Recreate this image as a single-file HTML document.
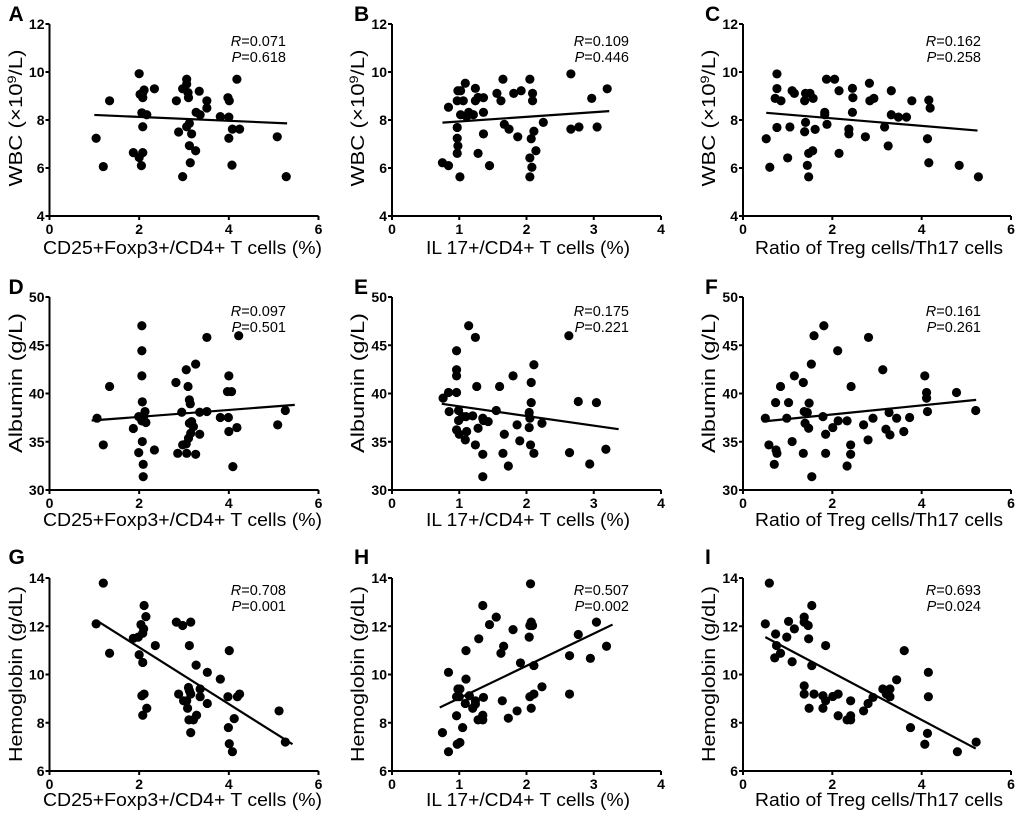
<!DOCTYPE html>
<html><head><meta charset="utf-8"><style>
html,body{margin:0;padding:0;background:#fff;}
svg{display:block;font-family:"Liberation Sans",Arial,sans-serif;}
</style></head><body>
<svg id="fig" width="1020" height="824" viewBox="0 0 1020 824"></svg>
<script>
// ---- data ----
const aX=[1.04,1.2,1.34,2.0,1.87,2.0,2.08,2.05,2.08,2.06,2.17,2.08,2.08,2.02,2.11,2.34,2.83,2.88,2.97,2.97,3.06,3.06,3.09,3.1,3.06,3.12,3.17,3.12,3.14,3.26,3.27,3.36,3.34,3.51,3.51,3.81,3.98,4.01,4.0,4.0,4.18,4.08,4.24,4.07,5.08,5.28];
const aY=[7.24,6.06,8.8,9.93,6.64,6.44,6.64,6.1,7.72,8.3,8.22,8.93,9.14,9.07,9.25,9.3,8.8,7.5,5.64,9.3,9.5,9.7,9.14,8.93,7.72,7.86,7.42,6.93,6.22,6.72,8.32,8.22,9.2,8.8,8.5,8.14,8.93,8.8,8.12,7.24,9.7,7.62,7.62,6.12,7.3,5.64];
const aFitX=[1.0,5.3], aFitY=[8.21,7.86];
const bX=[0.75,0.84,0.84,0.98,1.02,0.97,0.97,0.97,0.98,0.97,1.01,1.02,1.06,1.09,1.11,1.14,1.21,1.24,1.24,1.28,1.36,1.36,1.36,1.28,1.45,1.56,1.62,1.65,1.67,1.74,1.81,1.92,1.87,2.05,2.09,2.09,2.07,2.11,2.14,2.05,2.08,2.05,2.25,2.66,2.66,2.78,2.97,3.05,3.2];
const bY=[6.22,6.1,8.53,9.22,9.22,8.8,7.69,7.24,6.92,6.61,5.63,8.22,8.8,9.53,8.14,8.32,8.22,9.32,8.8,8.94,8.93,8.32,7.42,6.61,6.1,9.11,8.8,9.7,7.82,7.62,9.11,9.22,7.3,9.7,9.11,8.8,7.22,7.53,6.72,6.42,6.03,5.63,7.9,9.92,7.62,7.71,8.9,7.71,9.3];
const bFitX=[0.75,3.23], bFitY=[7.89,8.37];
const cX=[0.52,0.6,0.76,0.76,0.72,0.85,0.76,1.0,1.05,1.1,1.15,1.38,1.4,1.5,1.57,1.4,1.38,1.615,1.44,1.47,1.47,1.56,1.83,1.83,1.88,1.87,2.05,2.15,2.15,2.37,2.37,2.45,2.46,2.45,2.74,2.83,2.84,2.93,3.17,3.25,3.32,3.32,3.48,3.66,3.78,4.13,4.16,4.19,4.16,4.84,5.27];
const cY=[7.22,6.03,9.92,9.31,8.9,8.8,7.69,6.42,7.71,9.22,9.11,8.8,9.11,9.11,8.9,7.9,7.51,7.61,6.11,5.63,6.61,6.72,8.32,8.22,7.82,9.7,9.7,9.22,6.61,7.62,7.42,9.32,8.93,8.32,7.3,9.53,8.8,8.9,7.71,6.92,9.22,8.22,8.12,8.12,8.8,7.22,8.83,8.5,6.22,6.11,5.63];
const cFitX=[0.52,5.25], cFitY=[8.3,7.56];
const dX=[1.06,1.2,1.34,1.87,1.99,1.99,2.06,2.06,2.06,2.07,2.06,2.1,2.13,2.15,2.07,2.09,2.09,2.34,2.82,2.95,2.86,3.05,3.09,3.12,3.14,3.12,3.17,3.21,3.15,3.1,3.05,2.97,3.06,3.26,3.26,3.35,3.35,3.51,3.51,3.81,4.0,3.97,4.06,3.99,4.0,4.09,4.18,4.22,5.09,5.26];
const dY=[37.44,34.67,40.73,36.37,37.6,33.87,47.02,44.43,41.83,39.13,37.16,37.6,38.13,36.99,35.02,32.66,31.38,34.15,41.14,38.06,33.8,42.46,40.73,39.34,38.93,36.92,37.09,36.57,35.88,35.36,34.78,34.67,33.8,43.05,33.7,38.06,35.78,45.81,38.13,37.51,41.83,40.2,40.2,37.51,36.06,32.42,36.47,45.99,36.75,38.24];
const dFitX=[0.94,5.47], dFitY=[37.2,38.82];
const eX=[0.76,0.85,0.84,0.96,0.96,0.96,0.96,0.99,0.99,0.96,1.0,1.05,1.1,1.11,1.09,1.14,1.2,1.24,1.26,1.24,1.28,1.35,1.36,1.35,1.35,1.43,1.55,1.6,1.67,1.65,1.73,1.8,1.86,1.9,2.04,2.05,2.04,2.06,2.07,2.07,2.11,2.11,2.23,2.63,2.64,2.77,2.94,3.04,3.18];
const eY=[39.52,38.13,40.1,44.43,42.46,41.83,40.1,38.24,37.2,36.23,35.78,37.6,37.6,36.06,35.19,47.02,37.68,45.81,40.73,34.67,36.4,37.44,37.2,33.7,31.38,37.09,38.24,40.73,35.78,33.8,32.49,41.83,36.75,35.09,38.03,37.44,36.47,34.67,39.06,41.14,42.98,33.8,36.92,45.99,33.87,39.17,32.7,39.06,34.22];
const eFitX=[0.74,3.37], eFitY=[38.93,36.3];
const fX=[0.5,0.58,0.73,0.84,0.74,0.76,0.7,0.98,1.02,1.1,1.15,1.35,1.37,1.39,1.44,1.48,1.47,1.35,1.53,1.59,1.54,1.79,1.81,1.85,1.85,2.01,2.13,2.12,2.33,2.41,2.41,2.42,2.33,2.7,2.8,2.81,2.91,3.13,3.2,3.27,3.29,3.44,3.6,3.73,4.07,4.11,4.11,4.13,4.78,5.21];
const fY=[37.44,34.67,39.06,40.73,34.15,33.8,32.66,37.44,39.06,35.02,41.83,41.14,38.13,36.92,38.03,39.0,36.4,33.8,43.05,45.99,31.38,37.6,47.02,35.78,33.8,36.47,37.16,44.43,37.16,34.67,33.7,40.73,32.49,36.75,35.19,45.81,37.44,42.46,36.3,38.03,35.71,37.44,36.06,37.51,41.83,40.1,39.52,38.13,40.1,38.24];
const fFitX=[0.44,5.22], fFitY=[37.1,39.34];
const gX=[1.04,1.2,1.34,1.87,1.98,2.04,2.08,2.1,2.11,2.15,2.0,2.08,2.06,2.11,2.08,2.17,2.36,2.83,2.97,3.15,3.12,3.27,2.88,2.99,3.06,3.1,3.12,3.15,3.08,3.11,3.21,3.28,3.15,3.36,3.36,3.52,3.52,3.81,3.98,4.01,3.99,4.01,4.08,4.12,4.19,4.24,5.12,5.26];
const gY=[12.1,13.79,10.88,11.5,11.55,12.07,11.71,11.89,12.86,12.4,10.82,10.5,9.12,9.19,8.31,8.6,11.2,12.17,12.03,12.17,11.2,10.39,9.19,8.91,8.91,9.46,9.33,9.19,8.6,8.12,8.12,8.31,7.59,9.4,9.08,10.09,8.8,9.81,9.08,10.99,7.8,7.13,6.8,8.17,9.08,9.19,8.49,7.2];
const gFitX=[1.11,5.42], gFitY=[12.17,7.11];
const hX=[0.75,0.84,0.84,0.96,0.96,0.98,1.01,1.0,0.97,1.01,1.05,1.09,1.1,1.1,1.15,1.2,1.24,1.24,1.29,1.28,1.35,1.36,1.35,1.35,1.45,1.55,1.62,1.66,1.64,1.73,1.8,1.86,1.91,2.04,2.05,2.07,2.09,2.06,2.05,2.07,2.11,2.11,2.23,2.64,2.64,2.77,2.95,3.04,3.19];
const hY=[7.59,6.8,10.09,8.29,9.08,9.4,9.4,9.08,7.11,7.18,7.8,8.8,9.81,10.99,9.12,8.6,8.91,8.77,11.48,8.12,12.86,9.05,8.31,8.12,12.07,12.38,10.88,11.17,8.91,8.19,11.86,8.49,10.48,11.55,12.03,12.17,12.03,13.76,9.08,8.6,9.19,10.37,9.49,10.78,9.19,11.66,10.67,12.17,11.17];
const hFitX=[0.71,3.28], hFitY=[8.63,12.07];
const iX=[0.5,0.59,0.73,0.71,0.75,0.84,0.98,1.02,1.1,1.15,1.37,1.37,1.46,1.47,1.54,1.54,1.37,1.37,1.59,1.48,1.79,1.85,1.79,1.85,2.01,2.13,2.13,2.33,2.41,2.41,2.41,2.7,2.8,2.91,3.13,3.21,3.29,3.29,3.44,3.61,3.75,4.07,4.13,4.15,4.15,4.8,5.22];
const iY=[12.1,13.79,11.68,10.69,11.2,10.88,11.55,12.2,10.53,11.89,12.38,12.17,12.03,11.48,12.86,10.37,9.53,9.19,9.19,8.6,9.12,8.91,8.6,11.2,9.09,9.19,8.29,8.12,8.29,8.12,8.91,8.49,8.8,9.05,9.4,9.19,9.4,9.08,9.78,10.99,7.8,7.11,7.56,9.08,10.09,6.8,7.2];
const iFitX=[0.5,5.21], iFitY=[11.55,6.93];
const wbcTicks=[4,6,8,10,12], albTicks=[30,35,40,45,50], hbTicks=[6,8,10,12,14];
const x6Ticks=[0,2,4,6], x4Ticks=[0,1,2,3,4];

const NS="http://www.w3.org/2000/svg";
const svg=document.getElementById('fig');
function el(tag,attrs,parent,text){const e=document.createElementNS(NS,tag);for(const k in attrs)e.setAttribute(k,attrs[k]);if(text!==undefined)e.textContent=text;(parent||svg).appendChild(e);return e;}

const cols=[{x0:49.5,x1:318.5,max:6,ticks:x6Ticks,title:"CD25+Foxp3+/CD4+ T cells (%)",tl:43,tw:279,ylx:15},
            {x0:392,x1:661,max:4,ticks:x4Ticks,title:"IL 17+/CD4+ T cells (%)",tl:426,tw:204,ylx:357},
            {x0:743,x1:1011,max:6,ticks:x6Ticks,title:"Ratio of Treg cells/Th17 cells",tl:755,tw:248,ylx:708}];
const rows=[{yt:24,yb:216,min:4,max:12,ticks:wbcTicks,lab:14,rb:46,xt:254,yc:118,ylen:137},
            {yt:297,yb:490,min:30,max:50,ticks:albTicks,lab:287,rb:316,xt:526,yc:383,ylen:140},
            {yt:578,yb:771,min:6,max:14,ticks:hbTicks,lab:557,rb:595,xt:806,yc:674,ylen:176}];
const panels=[
 ["A",0,0,aX,aY,aFitX,aFitY,"0.071","0.618"],["B",1,0,bX,bY,bFitX,bFitY,"0.109","0.446"],["C",2,0,cX,cY,cFitX,cFitY,"0.162","0.258"],
 ["D",0,1,dX,dY,dFitX,dFitY,"0.097","0.501"],["E",1,1,eX,eY,eFitX,eFitY,"0.175","0.221"],["F",2,1,fX,fY,fFitX,fFitY,"0.161","0.261"],
 ["G",0,2,gX,gY,gFitX,gFitY,"0.708","0.001"],["H",1,2,hX,hY,hFitX,hFitY,"0.507","0.002"],["I",2,2,iX,iY,iFitX,iFitY,"0.693","0.024"]];
const rTextRight=[286,629,981];

panels.forEach(p=>{
  const [L,ci,ri,xs,ys,fx,fy,rv,pv]=p;const c=cols[ci],r=rows[ri];
  const sx=v=>c.x0+(v/c.max)*(c.x1-c.x0);
  const sy=v=>r.yb-(v-r.min)/(r.max-r.min)*(r.yb-r.yt);
  const g=el('g',{});
  
  
  const lt=el('text',{x:c.x0-38+(ci==0?-3:0),y:r.lab+7,'font-size':21,'font-weight':'bold'},g,L);
  
  
  const ax=el('path',{d:`M${c.x0},${r.yt}V${r.yb}H${c.x1}`,stroke:'#000','stroke-width':2,fill:'none'},g);
  
  
  r.ticks.forEach(t=>{
    el('line',{x1:c.x0-4,x2:c.x0,y1:sy(t),y2:sy(t),stroke:'#000','stroke-width':2},g);
    const tl=el('text',{x:c.x0-5,y:sy(t)+5,'font-size':14,'font-weight':'bold','text-anchor':'end'},g,t);
    
    
  });
  c.ticks.forEach(t=>{
    el('line',{x1:sx(t),x2:sx(t),y1:r.yb,y2:r.yb+4,stroke:'#000','stroke-width':2},g);
    const tl=el('text',{x:sx(t),y:r.yb+18,'font-size':14,'font-weight':'bold','text-anchor':'middle'},g,t);
    
    
  });
  const xt=el('text',{x:c.tl,y:r.xt,'font-size':18.5,textLength:c.tw,lengthAdjust:'spacingAndGlyphs'},g,c.title);
  
  
  const yt=el('text',{x:0,y:0,'font-size':18.5,'text-anchor':'middle',transform:`translate(${c.ylx+7},${r.yc}) rotate(-90)`,textLength:r.ylen,lengthAdjust:'spacingAndGlyphs'},g);
  
  
  if(ri==0){yt.textContent='WBC (\u00d710';el('tspan',{dy:-6,'font-size':12},yt,'9');el('tspan',{dy:6},yt,'/L)');}
  else if(ri==1) yt.textContent='Albumin (g/L)'; else yt.textContent='Hemoglobin (g/dL)';
  xs.forEach((v,i)=>{
    const d=el('circle',{cx:sx(v),cy:sy(ys[i]),r:4.6,fill:'#000'},g);
    
    
  });
  const fl=el('line',{x1:sx(fx[0]),y1:sy(fy[0]),x2:sx(fx[1]),y2:sy(fy[1]),stroke:'#000','stroke-width':2.2},g);
  
  
  const rt=el('text',{x:rTextRight[ci],y:r.rb,'font-size':14.5,'text-anchor':'end'},g);
  
  
  el('tspan',{'font-style':'italic'},rt,'R');el('tspan',{},rt,'='+rv);
  const pt=el('text',{x:rTextRight[ci],y:r.rb+16,'font-size':14.5,'text-anchor':'end'},g);
  
  
  el('tspan',{'font-style':'italic'},pt,'P');el('tspan',{},pt,'='+pv);
});
</script>
</body></html>
